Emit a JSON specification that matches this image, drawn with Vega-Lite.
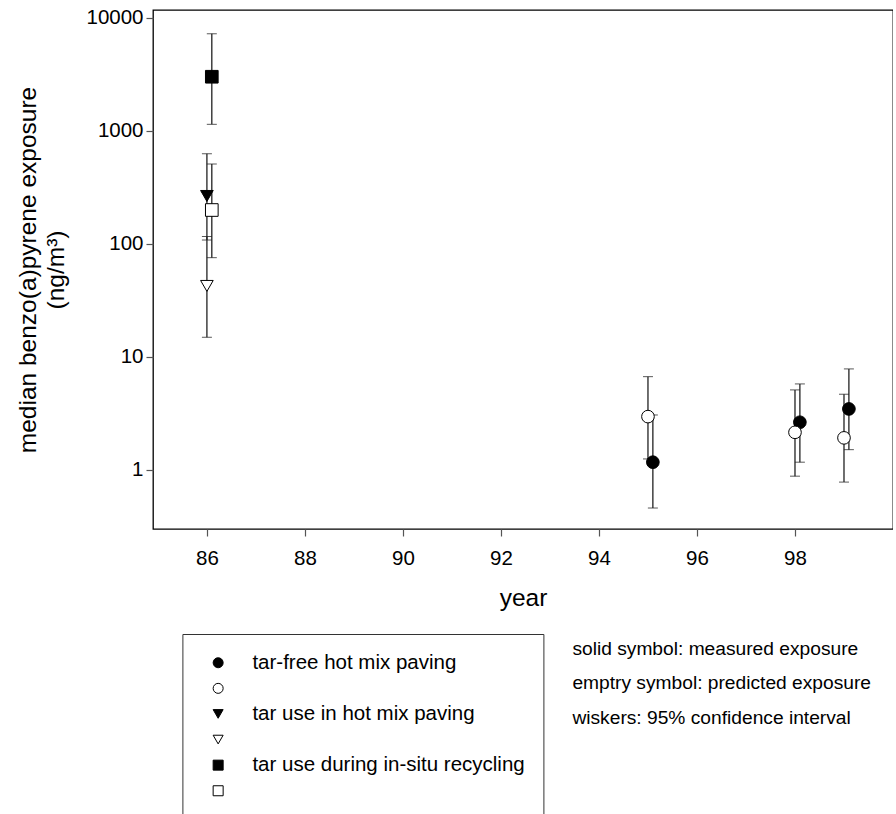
{
  "$schema": "https://vega.github.io/schema/vega-lite/v6.json",
  "width": 740,
  "height": 519,
  "padding": {"left": 15, "top": 7, "right": 0, "bottom": 0},
  "background": "white",
  "config": {
    "font": "Liberation Sans",
    "view": {"stroke": "black", "strokeWidth": 1.3},
    "axis": {"grid": false, "domain": false, "tickSize": 7, "tickColor": "#555", "tickWidth": 1.2, "labelColor": "black", "titleColor": "black", "labelFontSize": 20.5, "titleFontSize": 24.5, "titleFontWeight": "normal"},
    "legend": {"orient": "none", "legendX": 29.4, "legendY": 624, "title": null, "strokeColor": "#333", "padding": 18.5, "symbolOffset": 7, "labelOffset": 24, "rowPadding": 4.6, "labelFontSize": 20.5, "labelColor": "black", "labelLimit": 400, "symbolSize": 100, "symbolStrokeWidth": 1}
  },
  "title": {
    "text": ["solid symbol: measured exposure", "emptry symbol: predicted exposure", "wiskers: 95% confidence interval"],
    "orient": "bottom", "anchor": "start", "frame": "group", "align": "left", "baseline": "top",
    "dx": 419.4, "dy": -181, "offset": 0, "fontSize": 19.2, "fontWeight": "normal", "color": "black", "lineHeight": 34.5
  },
  "data": {
    "values": [
      {"series": "tar-free hot mix paving", "year": 95.1, "value": 1.17, "lo": 0.46, "hi": 3.06},
      {"series": "tar-free hot mix paving", "year": 98.1, "value": 2.64, "lo": 1.17, "hi": 5.76},
      {"series": "tar-free hot mix paving", "year": 99.1, "value": 3.46, "lo": 1.51, "hi": 7.82},
      {"series": "tar use in hot mix paving", "year": 86.0, "value": 265, "lo": 108, "hi": 626},
      {"series": "tar use during in-situ recycling", "year": 86.1, "value": 3005, "lo": 1140, "hi": 7210},
      {"series": "tar-free hot mix paving (predicted)", "year": 95.0, "value": 2.96, "lo": 1.25, "hi": 6.68},
      {"series": "tar-free hot mix paving (predicted)", "year": 98.0, "value": 2.15, "lo": 0.88, "hi": 5.10},
      {"series": "tar-free hot mix paving (predicted)", "year": 99.0, "value": 1.92, "lo": 0.78, "hi": 4.67},
      {"series": "tar use in hot mix paving (predicted)", "year": 86.0, "value": 42.4, "lo": 14.9, "hi": 116},
      {"series": "tar use during in-situ recycling (predicted)", "year": 86.1, "value": 199, "lo": 75.4, "hi": 508}
    ]
  },
  "layer": [
    {
      "mark": {"type": "errorbar", "ticks": {"size": 10, "color": "#111"}, "rule": {"color": "#222", "strokeWidth": 1.3}},
      "encoding": {
        "x": {"field": "year", "type": "quantitative", "scale": {"domain": [84.9, 100], "nice": false, "zero": false},
              "axis": {"values": [86, 88, 90, 92, 94, 96, 98], "title": "year", "labelPadding": 12, "titlePadding": 18}},
        "y": {"field": "lo", "type": "quantitative", "scale": {"type": "log", "domain": [0.3, 11700], "nice": false},
              "axis": {"values": [1, 10, 100, 1000, 10000], "format": "d", "title": ["median benzo(a)pyrene exposure", "(ng/m³)"], "labelPadding": 3, "titlePadding": 17, "titleLineHeight": 28}},
        "y2": {"field": "hi"}
      }
    },
    {
      "mark": {"type": "point", "filled": true, "size": 160, "strokeWidth": 1, "opacity": 1},
      "encoding": {
        "x": {"field": "year", "type": "quantitative"},
        "y": {"field": "value", "type": "quantitative",
              "axis": {"values": [1, 10, 100, 1000, 10000], "format": "d", "title": ["median benzo(a)pyrene exposure", "(ng/m³)"], "labelPadding": 3, "titlePadding": 17, "titleLineHeight": 28}},
        "shape": {"field": "series", "type": "nominal",
          "scale": {"domain": ["tar-free hot mix paving", "tar-free hot mix paving (predicted)", "tar use in hot mix paving", "tar use in hot mix paving (predicted)", "tar use during in-situ recycling", "tar use during in-situ recycling (predicted)"],
                    "range": ["circle", "circle", "triangle-down", "triangle-down", "square", "square"]},
          "legend": {"labelExpr": "test(/predicted/, datum.label) ? '' : datum.label"}},
        "fill": {"field": "series", "type": "nominal",
          "scale": {"domain": ["tar-free hot mix paving", "tar-free hot mix paving (predicted)", "tar use in hot mix paving", "tar use in hot mix paving (predicted)", "tar use during in-situ recycling", "tar use during in-situ recycling (predicted)"],
                    "range": ["black", "white", "black", "white", "black", "white"]},
          "legend": {"labelExpr": "test(/predicted/, datum.label) ? '' : datum.label"}},
        "stroke": {"field": "series", "type": "nominal",
          "scale": {"domain": ["tar-free hot mix paving", "tar-free hot mix paving (predicted)", "tar use in hot mix paving", "tar use in hot mix paving (predicted)", "tar use during in-situ recycling", "tar use during in-situ recycling (predicted)"],
                    "range": ["black", "black", "black", "black", "black", "black"]},
          "legend": {"labelExpr": "test(/predicted/, datum.label) ? '' : datum.label"}}
      }
    }
  ]
}
